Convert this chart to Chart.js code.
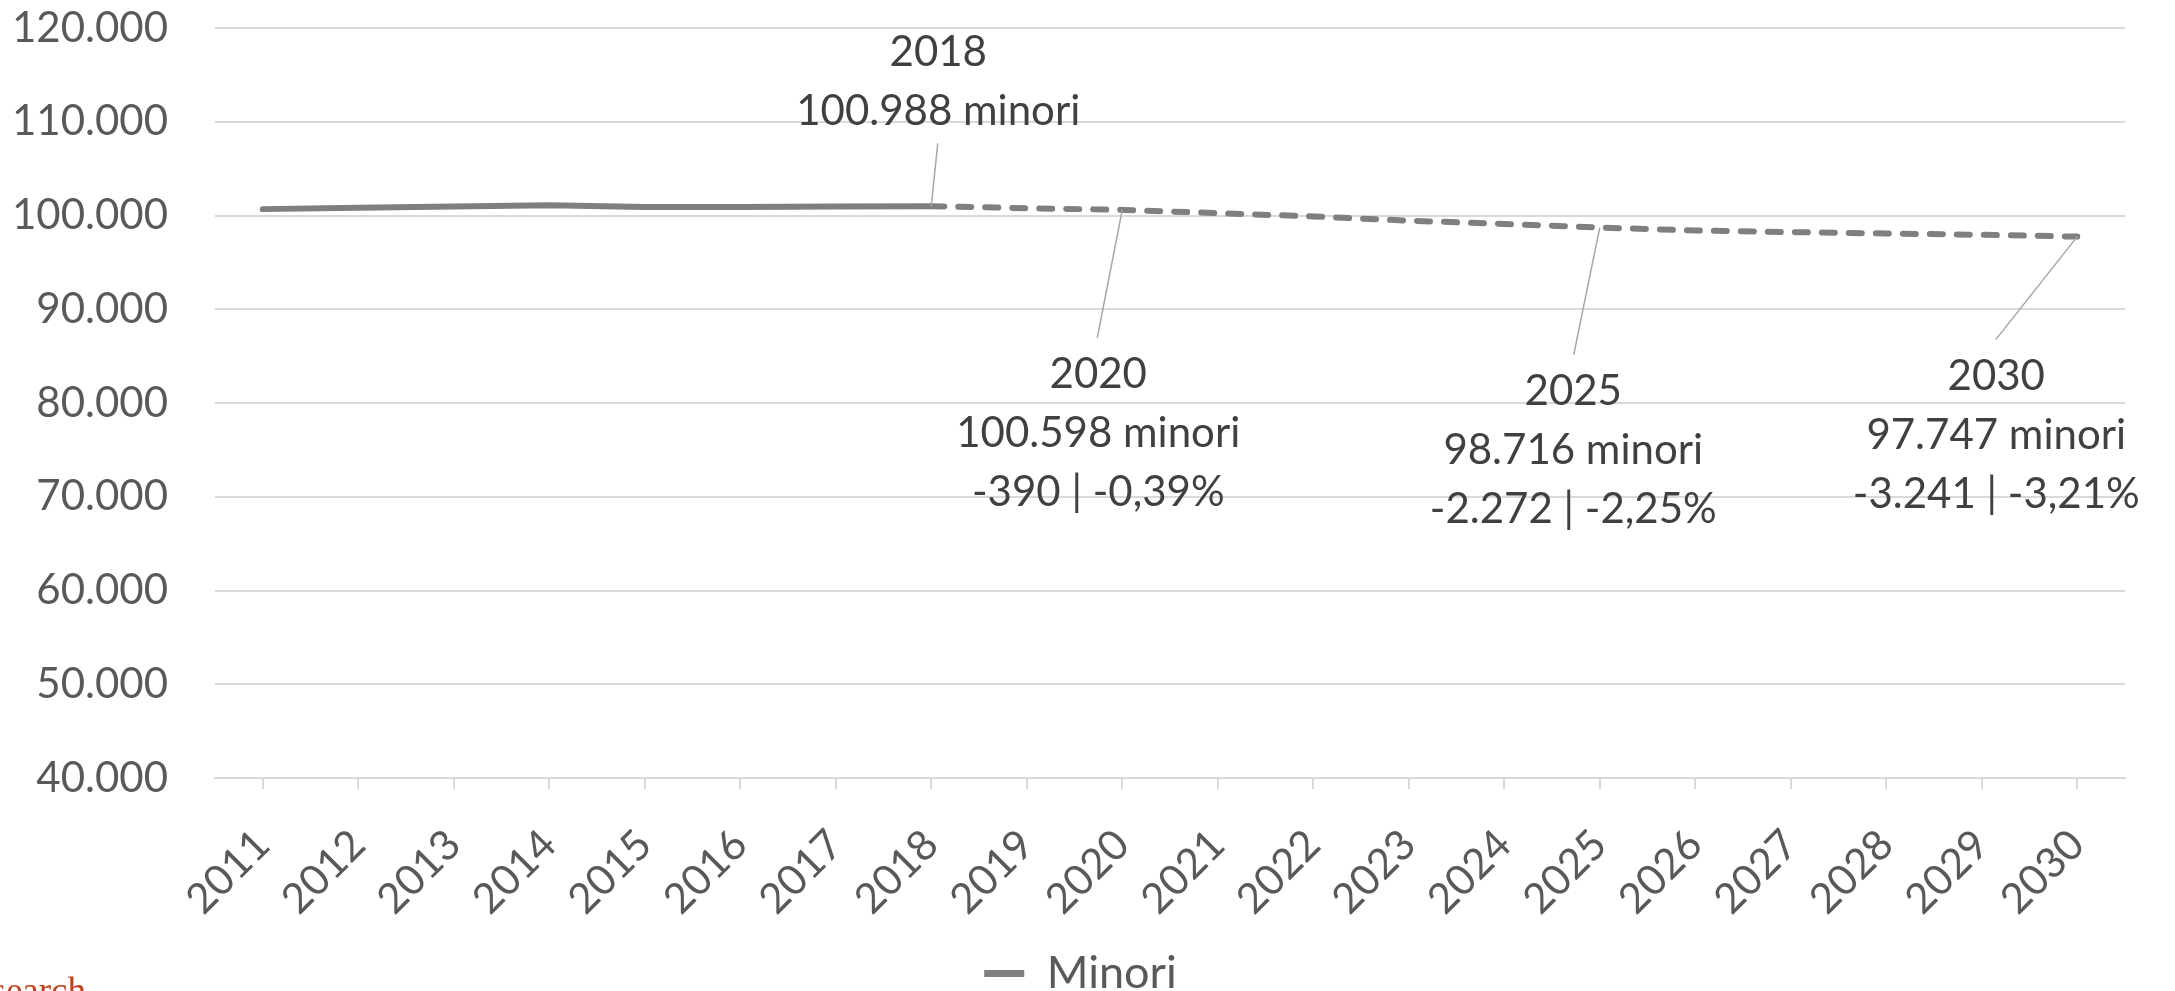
<!DOCTYPE html>
<html>
<head>
<meta charset="utf-8">
<script src="https://cdn.jsdelivr.net/npm/chart.js@4.4.1/dist/chart.umd.min.js"></script>
<style>
  html, body { margin: 0; padding: 0; background: #ffffff; overflow: hidden; }
  #wrap { width: 2175px; height: 991px; position: relative; }
</style>
</head>
<body>
<div id="wrap"><canvas id="c" width="2175" height="991"></canvas></div>
<script>
// ---- data ----
const years = ['2011','2012','2013','2014','2015','2016','2017','2018','2019','2020',
               '2021','2022','2023','2024','2025','2026','2027','2028','2029','2030'];
const minori = [100680, 100820, 100950, 101100, 100900, 100920, 100950, 100988, 100780, 100598,
                100250, 99900, 99450, 99100, 98716, 98400, 98230, 98080, 97940, 97747];
const seriesName = 'Minori';
const lastObservedYear = '2018';
const calloutYears = ['2018', '2020', '2025', '2030'];
const yTickMin = 40000, yTickMax = 120000, yTickStep = 10000;
const watermark = 'Research';

// ---- layout / style (not data) ----
const calloutOffsets = [
  { dx: 7,     dy: -140, lx: 6.5,  ly: -63 },
  { dx: -24,   dy: 178,  lx: -25,  ly: 128 },
  { dx: -26.5, dy: 177,  lx: -26,  ly: 127 },
  { dx: -81,   dy: 153,  lx: -81.5, ly: 103 }
];
const legendShift = 18;
const FONT = 'Lato, "Open Sans", sans-serif';
const baseIdx = years.indexOf(lastObservedYear);

function fmtThousands(n) {
  const s = Math.abs(Math.round(n)).toString().replace(/\B(?=(\d{3})+(?!\d))/g, '.');
  return (n < 0 ? '-' : '') + s;
}
function calloutLines(i) {
  const v = minori[i];
  const lines = [years[i], fmtThousands(v) + ' minori'];
  if (i !== baseIdx) {
    const d = v - minori[baseIdx];
    const p = (d / minori[baseIdx] * 100).toFixed(2).replace('.', ',');
    lines.push(fmtThousands(d) + ' | ' + p + '%');
  }
  return lines;
}

const calloutPlugin = {
  id: 'callouts',
  beforeDraw(chart) {
    const lg = chart.legend;
    if (lg && !lg._shifted) {
      lg.left += legendShift;
      lg.right += legendShift;
      lg._shifted = true;
    }
  },
  afterDatasetsDraw(chart) {
    const ctx = chart.ctx;
    const meta = chart.getDatasetMeta(0);
    ctx.save();
    calloutYears.forEach((yr, k) => {
      const i = years.indexOf(yr);
      const pt = meta.data[i];
      const o = calloutOffsets[k];
      ctx.strokeStyle = '#a6a6a6';
      ctx.lineWidth = 1.5;
      ctx.setLineDash([]);
      ctx.beginPath();
      ctx.moveTo(pt.x, pt.y);
      ctx.lineTo(pt.x + o.lx, pt.y + o.ly);
      ctx.stroke();
      ctx.font = '42px ' + FONT;
      ctx.fillStyle = '#404040';
      ctx.textAlign = 'center';
      ctx.textBaseline = 'alphabetic';
      calloutLines(i).forEach((t, j) => ctx.fillText(t, pt.x + o.dx, pt.y + o.dy + j * 59));
    });
    ctx.restore();
  },
  afterDraw(chart) {
    const ctx = chart.ctx;
    ctx.save();
    ctx.font = '37px "Liberation Serif", "DejaVu Serif", serif';
    ctx.fillStyle = '#c8401a';
    ctx.textAlign = 'right';
    ctx.textBaseline = 'alphabetic';
    ctx.fillText(watermark, 86, 1003);
    ctx.restore();
  }
};

new Chart(document.getElementById('c'), {
  type: 'line',
  data: {
    labels: years,
    datasets: [{
      label: seriesName,
      data: minori,
      borderColor: '#7f7f7f',
      backgroundColor: '#7f7f7f',
      borderWidth: 6,
      borderCapStyle: 'round',
      borderJoinStyle: 'round',
      pointRadius: 0,
      pointHoverRadius: 0,
      tension: 0,
      fill: false,
      segment: {
        borderDash: c => (c.p0DataIndex >= baseIdx ? [13, 14] : undefined)
      }
    }]
  },
  options: {
    responsive: false,
    animation: false,
    events: [],
    layout: { padding: { top: 28, right: 50, left: 0, bottom: -15 } },
    plugins: {
      tooltip: { enabled: false },
      legend: {
        display: true,
        position: 'bottom',
        labels: {
          font: { family: FONT, size: 45 },
          color: '#595959',
          boxWidth: 40,
          boxHeight: 7,
          padding: 10,
          generateLabels(chart) {
            const items = Chart.defaults.plugins.legend.labels.generateLabels(chart);
            items.forEach(it => { it.lineWidth = 0; it.fillStyle = '#7f7f7f'; it.lineDash = []; });
            return items;
          }
        }
      }
    },
    scales: {
      x: {
        offset: true,
        grid: {
          display: true,
          drawOnChartArea: false,
          drawTicks: true,
          tickLength: 11,
          color: '#d9d9d9',
          lineWidth: 2,
          offset: false
        },
        border: { display: true, color: '#d9d9d9', width: 2 },
        ticks: {
          autoSkip: false,
          minRotation: 45,
          maxRotation: 45,
          padding: 31,
          color: '#595959',
          font: { family: FONT, size: 42 }
        },
        afterFit(scale) { scale.height = 163; }
      },
      y: {
        min: yTickMin,
        max: yTickMax,
        grid: { color: '#d9d9d9', lineWidth: 2, drawTicks: true, tickLength: 47, tickColor: 'rgba(0,0,0,0)' },
        border: { display: false },
        ticks: {
          stepSize: yTickStep,
          padding: 0,
          color: '#595959',
          font: { family: FONT, size: 42 },
          callback: v => fmtThousands(v)
        },
        afterFit(scale) { scale.width = 215; }
      }
    }
  },
  plugins: [calloutPlugin]
});
</script>
</body>
</html>
